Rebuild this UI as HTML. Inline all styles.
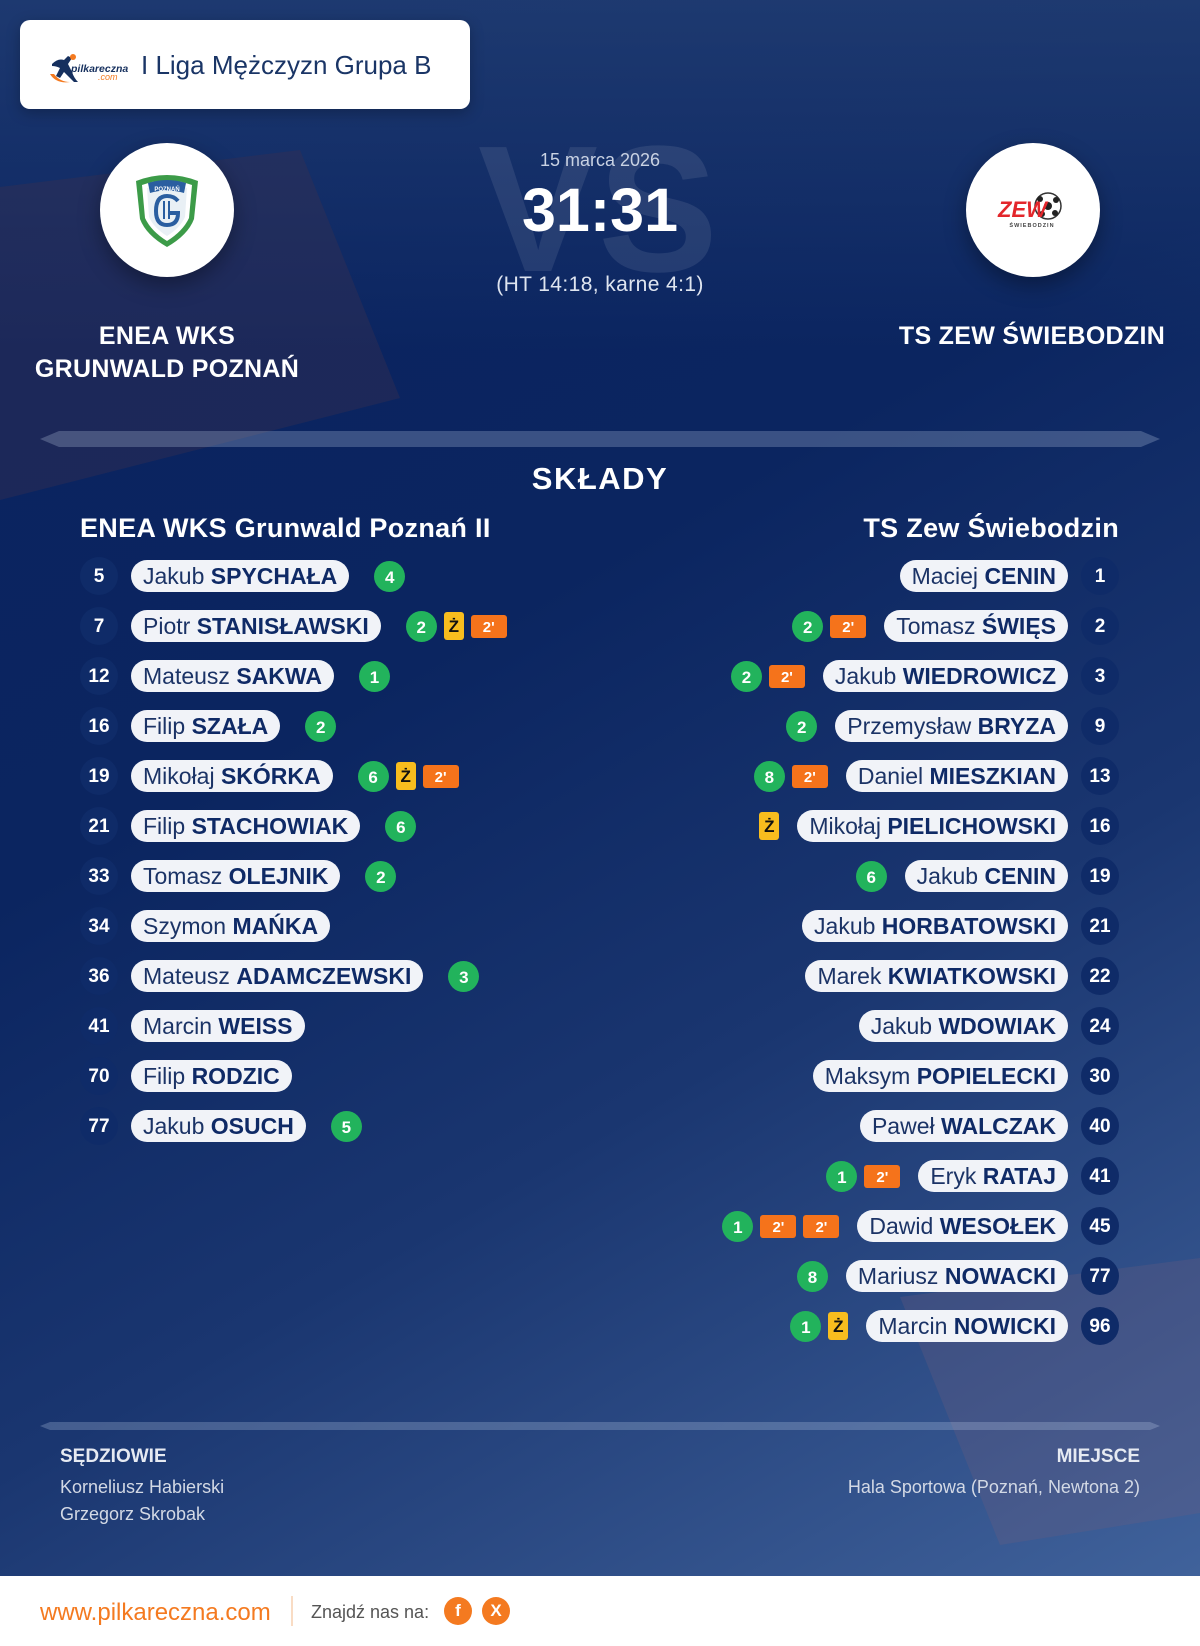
<!DOCTYPE html>
<html><head><meta charset="utf-8">
<style>
*{margin:0;padding:0;box-sizing:border-box}
html,body{width:1200px;height:1646px;overflow:hidden}
body{font-family:"Liberation Sans",Arial,sans-serif;position:relative;background:#fff}
.bg{position:absolute;left:0;top:0;width:1200px;height:1576px;overflow:hidden;
background:linear-gradient(180deg,rgba(45,75,125,0.55) 0px,rgba(45,75,125,0) 350px),linear-gradient(150deg,#0a2360 0%,#0b2560 40%,#1a3670 65%,#40629b 100%);}
.abs{position:absolute;white-space:nowrap}
.shape1{position:absolute;left:0;top:0;width:1200px;height:1576px;background:rgba(55,48,82,0.42);clip-path:polygon(0 187px,300px 150px,400px 398px,0 500px)}
.shape2{position:absolute;left:0;top:0;width:1200px;height:1576px;background:rgba(110,92,125,0.28);clip-path:polygon(900px 1297px,1200px 1258px,1200px 1513px,1000px 1545px)}
.vs{position:absolute;left:398px;width:400px;text-align:center;top:120px;font-size:180px;line-height:180px;font-weight:bold;color:rgba(255,255,255,0.09)}
.hdr{position:absolute;left:20px;top:20px;width:450px;height:89px;background:#fff;border-radius:10px;box-shadow:0 4px 14px rgba(0,0,0,0.25)}
.circle{position:absolute;width:134px;height:134px;border-radius:50%;background:#fff;box-shadow:0 8px 22px rgba(0,0,0,0.35)}
.tname{position:absolute;width:320px;text-align:center;color:#fff;font-weight:bold;font-size:25px;line-height:33px;letter-spacing:0.3px}
.bar{position:absolute;background:rgba(200,215,240,0.25)}
.row{position:absolute;height:50px;display:flex;align-items:center}
.num{width:38px;height:38px;border-radius:50%;background:#0f2b68;color:#fff;font-weight:bold;font-size:19px;line-height:38px;padding-top:1px;text-align:center;flex:none}
.pill{height:32px;border-radius:16px;background:#f1f3f8;padding:0 12px;font-size:23px;line-height:32px;color:#1b3366;white-space:nowrap;flex:none}
.pill b{color:#0f2a66}
.g{width:31px;height:31px;border-radius:50%;background:#22b35c;color:#fff;font-weight:bold;font-size:17px;line-height:31px;padding-top:1px;text-align:center;flex:none}
.y{width:20px;height:28px;border-radius:3px;background:#f8bd1e;color:#111;font-weight:bold;font-size:17px;line-height:28px;padding-top:1px;text-align:center;flex:none}
.o{width:36px;height:23px;border-radius:3px;background:#f5731b;color:#fff;font-weight:bold;font-size:15px;line-height:23px;padding-top:1px;text-align:center;flex:none}
.L .num{margin-right:13px}
.L .pill{margin-right:25px}
.L .g,.L .y,.L .o{margin-right:7px}
.R{justify-content:flex-end}
.R .num{margin-left:13px}
.R .pill{margin-left:18px}
.R .g,.R .y,.R .o{margin-left:7px}
</style></head><body>
<div class="bg">
  <div class="shape1"></div>
  <div class="shape2"></div>
  <div class="vs">VS</div>
</div>

<div class="hdr">
  <svg class="abs" style="left:28px;top:32px" width="80" height="36" viewBox="0 0 80 36">
    <path d="M4,12 Q10,6 16,8 L20,4 L24,6 L20,12 L24,20 Q26,26 30,30 L26,30 Q20,24 16,20 L12,26 L8,24 L12,16 Q8,14 4,14 Z" fill="#16305e"/>
    <circle cx="25" cy="5" r="3" fill="#f47a20"/>
    <path d="M2,22 Q8,32 22,30 Q12,30 6,22 Z" fill="#f47a20"/>
    <text x="23" y="20" font-family="Liberation Sans, sans-serif" font-size="10.5" font-weight="bold" font-style="italic" fill="#16305e">pilkareczna</text>
    <text x="50" y="28" font-family="Liberation Sans, sans-serif" font-size="9" font-style="italic" fill="#f47a20">.com</text>
  </svg>
  <div class="abs" style="left:121px;top:32px;font-size:26px;line-height:26px;color:#1a3566">I Liga Mężczyzn Grupa B</div>
</div>

<!-- left team -->
<div class="circle" style="left:100px;top:143px">
  <svg class="abs" style="left:34px;top:30px" width="66" height="75" viewBox="0 0 66 75">
    <path d="M2,8 Q33,-4 64,8 L60,46 Q54,62 33,74 Q12,62 6,46 Z" fill="#3c9b48"/>
    <path d="M8,12 Q33,3 58,12 L55,45 Q49,58 33,68 Q17,58 11,45 Z" fill="#fff"/>
    <path d="M13,15 Q33,8 53,15 L51,44 Q46,55 33,63 Q20,55 15,44 Z" fill="#e9f0f5"/>
    <path d="M14,10 Q33,4 52,10 L50,20 Q33,15 16,20 Z" fill="#2a5ea0"/>
    <text x="33" y="18" text-anchor="middle" font-family="Liberation Sans, sans-serif" font-size="6" font-weight="bold" fill="#fff">POZNAŃ</text>
    <path d="M44,28 Q40,23 33,23 Q22,23 22,38 Q22,52 33,52 Q44,52 44,40 L34,40" fill="none" stroke="#2a5ea0" stroke-width="4"/>
    <rect x="29" y="28" width="2" height="18" fill="#2a5ea0"/><rect x="34" y="28" width="2" height="18" fill="#2a5ea0"/>
  </svg>
</div>
<div class="tname" style="left:7px;top:320px">ENEA WKS<br>GRUNWALD POZNAŃ</div>

<!-- right team -->
<div class="circle" style="left:966px;top:143px">
  <svg class="abs" style="left:26px;top:38px" width="84" height="64" viewBox="0 0 84 64">
    <circle cx="56" cy="25" r="13" fill="#fff" stroke="#333" stroke-width="1.5"/>
    <circle cx="56" cy="25" r="4" fill="#222"/><circle cx="48" cy="18" r="3" fill="#222"/><circle cx="64" cy="19" r="3" fill="#222"/><circle cx="50" cy="33" r="3" fill="#222"/><circle cx="63" cy="32" r="3" fill="#222"/>
    <text x="6" y="36" font-family="Liberation Sans, sans-serif" font-size="22" font-weight="bold" font-style="italic" fill="#e3262b">ZEW</text>
    <text x="40" y="46" text-anchor="middle" font-family="Liberation Sans, sans-serif" font-size="5.5" font-weight="bold" fill="#444" letter-spacing="1">ŚWIEBODZIN</text>
  </svg>
</div>
<div class="tname" style="left:872px;top:320px;width:320px">TS ZEW ŚWIEBODZIN</div>

<!-- center -->
<div class="abs" style="left:400px;width:400px;text-align:center;top:151px;font-size:18px;line-height:18px;color:#c9d2e3">15 marca 2026</div>
<div class="abs" style="left:400px;width:400px;text-align:center;top:180px;font-size:61px;line-height:61px;font-weight:bold;color:#fff">31:31</div>
<div class="abs" style="left:400px;width:400px;text-align:center;top:274px;font-size:21px;line-height:21px;color:#dfe5f0;letter-spacing:0.4px">(HT 14:18, karne 4:1)</div>

<!-- separator -->
<div class="bar" style="left:40px;top:431px;width:1120px;height:16px;clip-path:polygon(0 50%,19px 0,calc(100% - 19px) 0,100% 50%,calc(100% - 19px) 100%,19px 100%)"></div>

<div class="abs" style="left:400px;width:400px;text-align:center;top:463px;font-size:31px;line-height:31px;font-weight:bold;color:#fff;letter-spacing:1.5px">SKŁADY</div>
<div class="abs" style="left:80px;top:515px;font-size:27px;line-height:27px;font-weight:bold;color:#fff;letter-spacing:0.3px">ENEA WKS Grunwald Poznań II</div>
<div class="abs" style="right:81px;top:515px;font-size:27px;line-height:27px;font-weight:bold;color:#fff;letter-spacing:0.3px">TS Zew Świebodzin</div>

<!-- left rows -->
<div class="row L" style="left:80px;top:551px"><div class="num">5</div><div class="pill">Jakub <b>SPYCHAŁA</b></div><div class="g">4</div></div>
<div class="row L" style="left:80px;top:601px"><div class="num">7</div><div class="pill">Piotr <b>STANISŁAWSKI</b></div><div class="g">2</div><div class="y">Ż</div><div class="o">2'</div></div>
<div class="row L" style="left:80px;top:651px"><div class="num">12</div><div class="pill">Mateusz <b>SAKWA</b></div><div class="g">1</div></div>
<div class="row L" style="left:80px;top:701px"><div class="num">16</div><div class="pill">Filip <b>SZAŁA</b></div><div class="g">2</div></div>
<div class="row L" style="left:80px;top:751px"><div class="num">19</div><div class="pill">Mikołaj <b>SKÓRKA</b></div><div class="g">6</div><div class="y">Ż</div><div class="o">2'</div></div>
<div class="row L" style="left:80px;top:801px"><div class="num">21</div><div class="pill">Filip <b>STACHOWIAK</b></div><div class="g">6</div></div>
<div class="row L" style="left:80px;top:851px"><div class="num">33</div><div class="pill">Tomasz <b>OLEJNIK</b></div><div class="g">2</div></div>
<div class="row L" style="left:80px;top:901px"><div class="num">34</div><div class="pill">Szymon <b>MAŃKA</b></div></div>
<div class="row L" style="left:80px;top:951px"><div class="num">36</div><div class="pill">Mateusz <b>ADAMCZEWSKI</b></div><div class="g">3</div></div>
<div class="row L" style="left:80px;top:1001px"><div class="num">41</div><div class="pill">Marcin <b>WEISS</b></div></div>
<div class="row L" style="left:80px;top:1051px"><div class="num">70</div><div class="pill">Filip <b>RODZIC</b></div></div>
<div class="row L" style="left:80px;top:1101px"><div class="num">77</div><div class="pill">Jakub <b>OSUCH</b></div><div class="g">5</div></div>

<!-- right rows -->
<div class="row R" style="left:600px;width:519px;top:551px"><div class="pill">Maciej <b>CENIN</b></div><div class="num">1</div></div>
<div class="row R" style="left:600px;width:519px;top:601px"><div class="g">2</div><div class="o">2'</div><div class="pill">Tomasz <b>ŚWIĘS</b></div><div class="num">2</div></div>
<div class="row R" style="left:600px;width:519px;top:651px"><div class="g">2</div><div class="o">2'</div><div class="pill">Jakub <b>WIEDROWICZ</b></div><div class="num">3</div></div>
<div class="row R" style="left:600px;width:519px;top:701px"><div class="g">2</div><div class="pill">Przemysław <b>BRYZA</b></div><div class="num">9</div></div>
<div class="row R" style="left:600px;width:519px;top:751px"><div class="g">8</div><div class="o">2'</div><div class="pill">Daniel <b>MIESZKIAN</b></div><div class="num">13</div></div>
<div class="row R" style="left:600px;width:519px;top:801px"><div class="y">Ż</div><div class="pill">Mikołaj <b>PIELICHOWSKI</b></div><div class="num">16</div></div>
<div class="row R" style="left:600px;width:519px;top:851px"><div class="g">6</div><div class="pill">Jakub <b>CENIN</b></div><div class="num">19</div></div>
<div class="row R" style="left:600px;width:519px;top:901px"><div class="pill">Jakub <b>HORBATOWSKI</b></div><div class="num">21</div></div>
<div class="row R" style="left:600px;width:519px;top:951px"><div class="pill">Marek <b>KWIATKOWSKI</b></div><div class="num">22</div></div>
<div class="row R" style="left:600px;width:519px;top:1001px"><div class="pill">Jakub <b>WDOWIAK</b></div><div class="num">24</div></div>
<div class="row R" style="left:600px;width:519px;top:1051px"><div class="pill">Maksym <b>POPIELECKI</b></div><div class="num">30</div></div>
<div class="row R" style="left:600px;width:519px;top:1101px"><div class="pill">Paweł <b>WALCZAK</b></div><div class="num">40</div></div>
<div class="row R" style="left:600px;width:519px;top:1151px"><div class="g">1</div><div class="o">2'</div><div class="pill">Eryk <b>RATAJ</b></div><div class="num">41</div></div>
<div class="row R" style="left:600px;width:519px;top:1201px"><div class="g">1</div><div class="o">2'</div><div class="o">2'</div><div class="pill">Dawid <b>WESOŁEK</b></div><div class="num">45</div></div>
<div class="row R" style="left:600px;width:519px;top:1251px"><div class="g">8</div><div class="pill">Mariusz <b>NOWACKI</b></div><div class="num">77</div></div>
<div class="row R" style="left:600px;width:519px;top:1301px"><div class="g">1</div><div class="y">Ż</div><div class="pill">Marcin <b>NOWICKI</b></div><div class="num">96</div></div>

<!-- footer separator -->
<div class="bar" style="left:40px;top:1422px;width:1120px;height:8px;clip-path:polygon(0 50%,10px 0,calc(100% - 10px) 0,100% 50%,calc(100% - 10px) 100%,10px 100%)"></div>

<div class="abs" style="left:60px;top:1447px;font-size:19px;line-height:19px;font-weight:bold;color:#e6eaf2">SĘDZIOWIE</div>
<div class="abs" style="left:60px;top:1478px;font-size:18px;line-height:18px;color:#d3d9e5">Korneliusz Habierski</div>
<div class="abs" style="left:60px;top:1505px;font-size:18px;line-height:18px;color:#d3d9e5">Grzegorz Skrobak</div>
<div class="abs" style="right:60px;top:1447px;font-size:19px;line-height:19px;font-weight:bold;color:#e6eaf2">MIEJSCE</div>
<div class="abs" style="right:60px;top:1478px;font-size:18px;line-height:18px;color:#d3d9e5">Hala Sportowa (Poznań, Newtona 2)</div>

<!-- white footer -->
<div class="abs" style="left:40px;top:1601px;font-size:24px;line-height:24px;color:#f47a20">www.pilkareczna.com</div>
<div class="abs" style="left:291px;top:1596px;width:2px;height:30px;background:#f9dcc4"></div>
<div class="abs" style="left:311px;top:1603px;font-size:18px;line-height:18px;color:#555">Znajdź nas na:</div>
<div class="abs" style="left:444px;top:1597px;width:28px;height:28px;border-radius:50%;background:#f47a20;color:#fff;font-weight:bold;font-size:17px;line-height:28px;text-align:center">f</div>
<div class="abs" style="left:482px;top:1597px;width:28px;height:28px;border-radius:50%;background:#f47a20;color:#fff;font-weight:bold;font-size:17px;line-height:28px;text-align:center">X</div>
</body></html>
